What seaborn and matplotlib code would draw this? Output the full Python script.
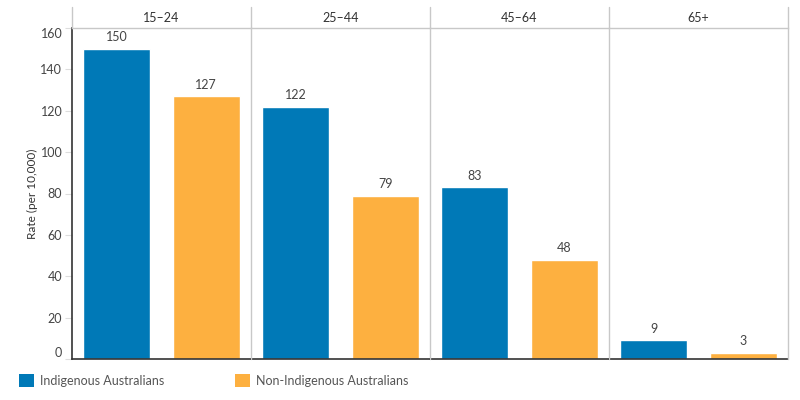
import pandas as pd
import matplotlib.pyplot as plt
import seaborn as sns
from matplotlib.lines import Line2D
from matplotlib.patches import Patch

# data
age_groups = ['15–24', '25–44', '45–64', '65+']
groups = ['Indigenous Australians', 'Non-Indigenous Australians']
indigenous = [150, 122, 83, 9]
non_indigenous = [127, 79, 48, 3]

colors = {'Indigenous Australians': '#0079b7', 'Non-Indigenous Australians': '#fdb040'}

rows = []
for i, age in enumerate(age_groups):
    rows.append({'Age': age, 'Group': groups[0], 'Rate': indigenous[i]})
    rows.append({'Age': age, 'Group': groups[1], 'Rate': non_indigenous[i]})
df = pd.DataFrame(rows)

sns.set_style('white')
plt.rcParams['font.family'] = ['Lato', 'DejaVu Sans']

fig, axes = plt.subplots(1, 4, figsize=(8, 4), dpi=100, sharey=True)
fig.subplots_adjust(left=0.09, right=0.985, bottom=0.1025, top=0.93, wspace=0)

grid_col = '#c8c8c8'
txt_col = '#333333'

for ax, age in zip(axes, age_groups):
    sub = df[df['Age'] == age]
    sns.barplot(data=sub, x='Group', y='Rate', hue='Group', order=groups,
                hue_order=groups, palette=colors, width=0.75, dodge=False,
                legend=False, ax=ax, saturation=1)
    for c in ax.containers:
        ax.bar_label(c, padding=4, fontsize=9, color='#444444')
    ax.set_xlim(-0.5, 1.5)
    ax.set_ylim(0, 160)
    ax.set_xlabel('')
    ax.set_ylabel('')
    ax.set_xticks([])
    for s in ['left', 'right']:
        ax.spines[s].set_visible(False)
    ax.spines['top'].set_color(grid_col)
    ax.spines['top'].set_linewidth(1)
    ax.spines['bottom'].set_color('#333333')
    ax.spines['bottom'].set_linewidth(1.2)
    ax.text(0.5, 1.0 + 10 / 331, age, transform=ax.transAxes, ha='center',
            va='center', fontsize=9, color=txt_col)

ax0 = axes[0]
ax0.spines['left'].set_visible(True)
ax0.spines['left'].set_color('#333333')
ax0.spines['left'].set_linewidth(1.2)
ax0.set_yticks(range(0, 161, 20))
ax0.tick_params(axis='y', left=True, length=5, color='#dddddd', labelsize=9,
                labelcolor='#444444', pad=2)
labels = ax0.get_yticklabels()
labels[0].set_va('bottom')
labels[-1].set_va('top')
ax0.set_ylabel('Rate (per 10,000)', fontsize=8.5, color=txt_col, labelpad=2)

# separators between panels and header band
top_fig = 1 - 7 / 400
bottom_fig = 0.1025
for i, ax in enumerate(axes):
    pos = ax.get_position()
    x = pos.x0
    y0 = pos.y1 if i == 0 else bottom_fig
    fig.add_artist(Line2D([x, x], [y0, top_fig], color=grid_col, lw=1))
pos = axes[-1].get_position()
fig.add_artist(Line2D([pos.x1, pos.x1], [bottom_fig, top_fig], color=grid_col, lw=1))

handles = [Patch(facecolor=colors[g], edgecolor='none') for g in groups]
leg = fig.legend(handles, groups, loc='lower left', bbox_to_anchor=(0.01, 0.005),
                 ncol=2, frameon=False, fontsize=9, handlelength=1.2,
                 handleheight=1.2, columnspacing=5.6, handletextpad=0.5)
for t in leg.get_texts():
    t.set_color('#555555')

fig.savefig('out.png', dpi=100)
